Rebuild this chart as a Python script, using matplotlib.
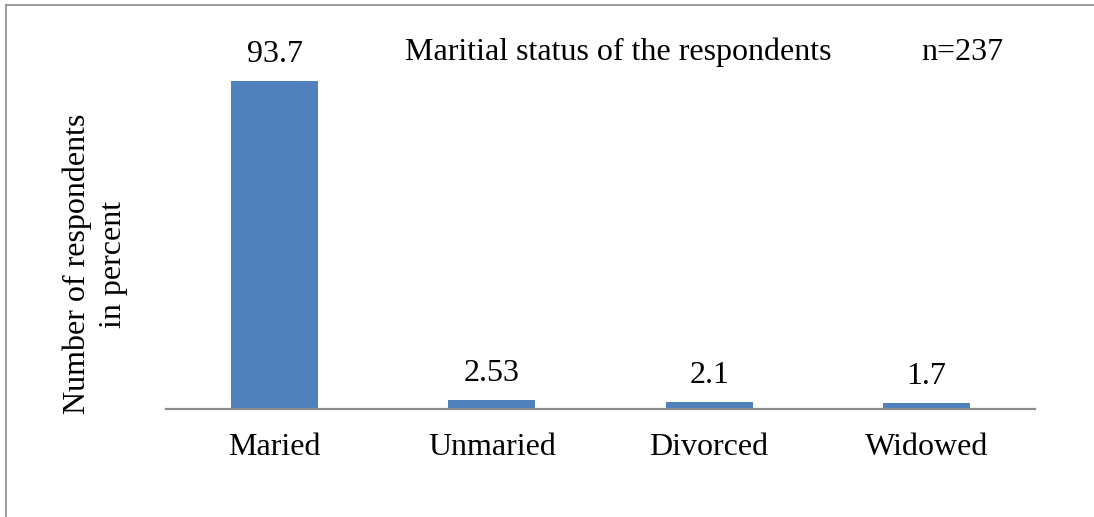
import matplotlib
matplotlib.use("Agg")
import matplotlib.pyplot as plt
from matplotlib.lines import Line2D

categories = ["Maried", "Unmaried", "Divorced", "Widowed"]
values = [93.7, 2.53, 2.1, 1.7]
value_labels = ["93.7", "2.53", "2.1", "1.7"]
title = "Maritial status of the respondents"
n_text = "n=237"
ylabel = "Number of respondents\nin percent"

plt.rcParams['font.family'] = ['Liberation Serif', 'DejaVu Serif']
FS = 23

W, H = 1094, 517
fig = plt.figure(figsize=(W / 100, H / 100), dpi=100)
ax = fig.add_axes([166 / W, (H - 409) / H, 869 / W, 350 / H])

x = list(range(len(categories)))
bars = ax.bar(x, values, width=0.4, color="#4F81BD", zorder=2)
ax.set_xlim(-0.5, len(categories) - 0.5)
ax.set_ylim(0, 100)

for xi, v, lab in zip(x, values, value_labels):
    ax.annotate(lab, (xi, v), xytext=(0, 13.5), textcoords="offset points",
                ha="center", va="baseline", fontsize=FS)

for s in ["top", "right", "left"]:
    ax.spines[s].set_visible(False)
ax.spines["bottom"].set_color("#8c8c8c")
ax.spines["bottom"].set_linewidth(1.6)
ax.set_yticks([])
ax.set_xticks(x)
ax.set_xticklabels(categories, fontsize=FS)
ax.tick_params(axis="x", length=0, pad=17.5)

fig.text(618 / W, 1 - 60 / H, title, ha="center", va="baseline", fontsize=FS)
fig.text(962 / W, 1 - 60 / H, n_text, ha="center", va="baseline", fontsize=FS)
fig.text(95 / W, 1 - 264 / H, ylabel, ha="center", va="center",
         rotation=90, fontsize=FS, linespacing=1.3)

fig.add_artist(Line2D([5.5 / W, 5.5 / W], [0, 1 - 4.5 / H], color="#8c8c8c", lw=1.2))
fig.add_artist(Line2D([5.5 / W, 1], [1 - 4.5 / H, 1 - 4.5 / H], color="#8c8c8c", lw=1.2))

fig.savefig("out.png", dpi=100, facecolor="white")
